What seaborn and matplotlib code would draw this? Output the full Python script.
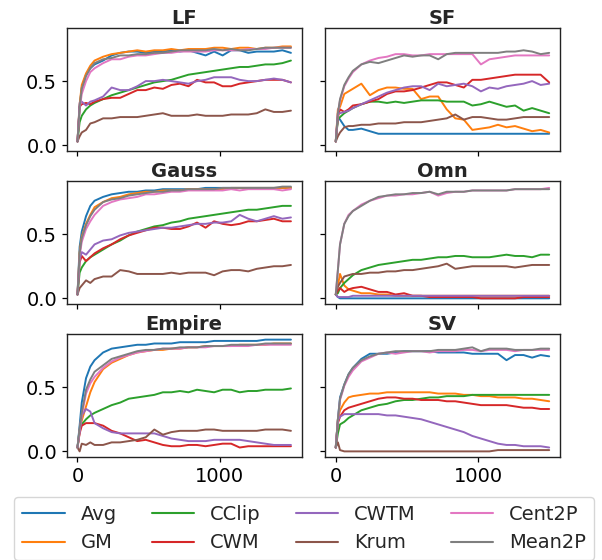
import numpy as np
import pandas as pd
import matplotlib
matplotlib.use("Agg")
import matplotlib.pyplot as plt
import seaborn as sns

# training steps (same for every panel)
steps = [0, 15, 30, 60, 90, 120, 180, 240, 300, 360, 420, 480, 540, 600, 660,
         720, 780, 840, 900, 960, 1020, 1080, 1140, 1200, 1260, 1320, 1380, 1440, 1500]

methods = ["Avg", "GM", "CClip", "CWM", "CWTM", "Krum", "Cent2P", "Mean2P"]
panels = ["LF", "SF", "Gauss", "Omn", "Empire", "SV"]

# ---- LF ----
lf_avg = [0.03, 0.30, 0.45, 0.55, 0.60, 0.63, 0.66, 0.70, 0.72, 0.73, 0.73, 0.72, 0.73, 0.73, 0.74, 0.73, 0.74, 0.72, 0.70, 0.73, 0.70, 0.74, 0.74, 0.72, 0.73, 0.73, 0.73, 0.74, 0.72]
lf_gm = [0.03, 0.32, 0.47, 0.56, 0.62, 0.66, 0.69, 0.71, 0.72, 0.73, 0.74, 0.73, 0.74, 0.74, 0.75, 0.74, 0.75, 0.75, 0.75, 0.76, 0.76, 0.75, 0.76, 0.76, 0.75, 0.76, 0.76, 0.77, 0.77]
lf_cclip = [0.03, 0.18, 0.23, 0.28, 0.31, 0.33, 0.36, 0.39, 0.41, 0.43, 0.45, 0.47, 0.49, 0.50, 0.51, 0.53, 0.55, 0.56, 0.57, 0.58, 0.59, 0.60, 0.61, 0.61, 0.62, 0.63, 0.63, 0.64, 0.66]
lf_cwm = [0.03, 0.30, 0.32, 0.33, 0.32, 0.34, 0.36, 0.37, 0.37, 0.40, 0.43, 0.43, 0.45, 0.44, 0.47, 0.48, 0.46, 0.51, 0.49, 0.49, 0.46, 0.46, 0.48, 0.49, 0.50, 0.51, 0.51, 0.51, 0.49]
lf_cwtm = [0.03, 0.33, 0.34, 0.31, 0.34, 0.35, 0.38, 0.45, 0.43, 0.43, 0.46, 0.50, 0.50, 0.51, 0.50, 0.49, 0.48, 0.50, 0.51, 0.53, 0.53, 0.53, 0.51, 0.50, 0.50, 0.51, 0.52, 0.51, 0.49]
lf_krum = [0.03, 0.07, 0.10, 0.12, 0.17, 0.18, 0.21, 0.21, 0.22, 0.22, 0.22, 0.23, 0.24, 0.25, 0.23, 0.23, 0.23, 0.24, 0.23, 0.23, 0.23, 0.24, 0.24, 0.24, 0.25, 0.28, 0.26, 0.26, 0.27]
lf_cent2p = [0.03, 0.28, 0.40, 0.50, 0.57, 0.60, 0.64, 0.67, 0.67, 0.69, 0.70, 0.70, 0.71, 0.72, 0.72, 0.73, 0.73, 0.73, 0.73, 0.74, 0.74, 0.74, 0.74, 0.75, 0.75, 0.75, 0.76, 0.76, 0.76]
lf_mean2p = [0.03, 0.30, 0.44, 0.54, 0.60, 0.64, 0.67, 0.68, 0.70, 0.70, 0.71, 0.71, 0.72, 0.72, 0.73, 0.74, 0.74, 0.74, 0.74, 0.75, 0.74, 0.75, 0.74, 0.74, 0.75, 0.76, 0.76, 0.76, 0.76]

# ---- SF ----
sf_avg = [0.03, 0.22, 0.20, 0.15, 0.12, 0.12, 0.13, 0.11, 0.09, 0.09, 0.09, 0.09, 0.09, 0.09, 0.09, 0.09, 0.09, 0.09, 0.09, 0.09, 0.09, 0.09, 0.09, 0.09, 0.09, 0.09, 0.09, 0.09, 0.09]
sf_gm = [0.03, 0.28, 0.30, 0.40, 0.42, 0.44, 0.48, 0.39, 0.43, 0.45, 0.45, 0.44, 0.44, 0.36, 0.38, 0.38, 0.28, 0.21, 0.20, 0.12, 0.13, 0.14, 0.16, 0.14, 0.15, 0.13, 0.11, 0.12, 0.10]
sf_cclip = [0.03, 0.20, 0.22, 0.25, 0.27, 0.29, 0.32, 0.34, 0.34, 0.33, 0.34, 0.33, 0.34, 0.35, 0.35, 0.35, 0.34, 0.34, 0.34, 0.31, 0.32, 0.34, 0.32, 0.30, 0.31, 0.27, 0.29, 0.27, 0.25]
sf_cwm = [0.03, 0.22, 0.28, 0.26, 0.28, 0.31, 0.32, 0.34, 0.36, 0.40, 0.42, 0.42, 0.43, 0.45, 0.47, 0.49, 0.49, 0.47, 0.45, 0.51, 0.51, 0.52, 0.53, 0.54, 0.55, 0.55, 0.55, 0.55, 0.49]
sf_cwtm = [0.03, 0.25, 0.25, 0.26, 0.27, 0.29, 0.32, 0.35, 0.38, 0.41, 0.43, 0.45, 0.46, 0.46, 0.43, 0.48, 0.46, 0.47, 0.48, 0.46, 0.42, 0.45, 0.44, 0.46, 0.47, 0.48, 0.50, 0.47, 0.48]
sf_krum = [0.03, 0.07, 0.10, 0.14, 0.15, 0.15, 0.16, 0.16, 0.17, 0.17, 0.17, 0.18, 0.18, 0.18, 0.19, 0.20, 0.21, 0.24, 0.20, 0.22, 0.22, 0.21, 0.20, 0.20, 0.21, 0.22, 0.22, 0.22, 0.22]
sf_cent2p = [0.03, 0.25, 0.35, 0.46, 0.52, 0.57, 0.63, 0.66, 0.68, 0.69, 0.71, 0.71, 0.70, 0.70, 0.71, 0.71, 0.71, 0.71, 0.71, 0.71, 0.63, 0.67, 0.68, 0.69, 0.70, 0.70, 0.70, 0.70, 0.70]
sf_mean2p = [0.03, 0.25, 0.36, 0.47, 0.53, 0.58, 0.63, 0.65, 0.64, 0.66, 0.68, 0.70, 0.69, 0.70, 0.70, 0.67, 0.71, 0.72, 0.72, 0.72, 0.72, 0.72, 0.72, 0.73, 0.73, 0.74, 0.73, 0.71, 0.72]

# ---- Gauss ----
ga_avg = [0.03, 0.40, 0.52, 0.64, 0.72, 0.76, 0.79, 0.81, 0.82, 0.83, 0.83, 0.84, 0.84, 0.85, 0.85, 0.85, 0.85, 0.85, 0.86, 0.86, 0.86, 0.86, 0.86, 0.86, 0.86, 0.86, 0.86, 0.86, 0.86]
ga_gm = [0.03, 0.36, 0.48, 0.58, 0.65, 0.71, 0.75, 0.78, 0.79, 0.81, 0.82, 0.83, 0.83, 0.84, 0.84, 0.84, 0.85, 0.85, 0.85, 0.85, 0.85, 0.86, 0.86, 0.86, 0.86, 0.86, 0.86, 0.86, 0.86]
ga_cclip = [0.03, 0.20, 0.24, 0.29, 0.32, 0.34, 0.38, 0.42, 0.45, 0.49, 0.52, 0.54, 0.56, 0.57, 0.59, 0.60, 0.62, 0.63, 0.64, 0.65, 0.66, 0.67, 0.68, 0.69, 0.69, 0.70, 0.71, 0.72, 0.72]
ga_cwm = [0.03, 0.28, 0.33, 0.29, 0.32, 0.35, 0.39, 0.42, 0.46, 0.49, 0.51, 0.53, 0.55, 0.55, 0.54, 0.54, 0.56, 0.59, 0.55, 0.60, 0.58, 0.57, 0.58, 0.60, 0.60, 0.61, 0.62, 0.60, 0.60]
ga_cwtm = [0.03, 0.30, 0.36, 0.34, 0.38, 0.42, 0.45, 0.46, 0.49, 0.51, 0.52, 0.53, 0.54, 0.55, 0.55, 0.56, 0.57, 0.58, 0.58, 0.59, 0.59, 0.60, 0.65, 0.62, 0.60, 0.62, 0.64, 0.62, 0.63]
ga_krum = [0.03, 0.08, 0.10, 0.14, 0.12, 0.15, 0.17, 0.17, 0.22, 0.21, 0.19, 0.19, 0.19, 0.19, 0.20, 0.19, 0.20, 0.20, 0.20, 0.18, 0.21, 0.22, 0.22, 0.21, 0.23, 0.24, 0.25, 0.25, 0.26]
ga_cent2p = [0.03, 0.33, 0.44, 0.54, 0.60, 0.65, 0.72, 0.75, 0.77, 0.78, 0.79, 0.81, 0.81, 0.82, 0.83, 0.83, 0.84, 0.84, 0.84, 0.84, 0.84, 0.85, 0.84, 0.85, 0.85, 0.85, 0.85, 0.84, 0.85]
ga_mean2p = [0.03, 0.35, 0.47, 0.57, 0.64, 0.69, 0.75, 0.77, 0.78, 0.80, 0.81, 0.82, 0.83, 0.83, 0.84, 0.84, 0.85, 0.85, 0.85, 0.85, 0.86, 0.86, 0.86, 0.86, 0.86, 0.86, 0.86, 0.87, 0.87]

# ---- Omn ----
om_avg = [0.03, 0.01, 0.00, 0.00, 0.00, 0.00, 0.00, 0.00, 0.00, 0.00, 0.00, 0.00, 0.00, 0.00, 0.00, 0.00, 0.00, 0.00, 0.00, 0.00, 0.00, 0.00, 0.00, 0.00, 0.00, 0.00, 0.00, 0.00, 0.00]
om_gm = [0.03, 0.10, 0.19, 0.10, 0.07, 0.06, 0.04, 0.04, 0.03, 0.03, 0.02, 0.02, 0.02, 0.02, 0.02, 0.02, 0.02, 0.02, 0.02, 0.02, 0.02, 0.02, 0.02, 0.02, 0.02, 0.02, 0.02, 0.02, 0.02]
om_cclip = [0.03, 0.04, 0.08, 0.12, 0.15, 0.18, 0.22, 0.24, 0.26, 0.27, 0.28, 0.29, 0.30, 0.30, 0.31, 0.32, 0.32, 0.33, 0.33, 0.32, 0.32, 0.32, 0.33, 0.34, 0.33, 0.33, 0.32, 0.34, 0.34]
om_cwm = [0.03, 0.06, 0.08, 0.05, 0.07, 0.08, 0.09, 0.07, 0.05, 0.05, 0.03, 0.04, 0.02, 0.02, 0.01, 0.01, 0.01, 0.01, 0.01, 0.01, 0.00, 0.00, 0.00, 0.00, 0.00, 0.01, 0.01, 0.01, 0.01]
om_cwtm = [0.03, 0.01, 0.01, 0.01, 0.01, 0.02, 0.02, 0.02, 0.02, 0.02, 0.02, 0.02, 0.02, 0.02, 0.02, 0.02, 0.02, 0.02, 0.02, 0.02, 0.02, 0.02, 0.02, 0.02, 0.02, 0.02, 0.02, 0.02, 0.02]
om_krum = [0.03, 0.09, 0.12, 0.17, 0.18, 0.19, 0.19, 0.20, 0.20, 0.21, 0.21, 0.22, 0.22, 0.23, 0.24, 0.25, 0.27, 0.23, 0.24, 0.25, 0.25, 0.25, 0.25, 0.25, 0.24, 0.25, 0.26, 0.26, 0.26]
om_cent2p = [0.03, 0.22, 0.42, 0.58, 0.65, 0.68, 0.73, 0.76, 0.78, 0.80, 0.80, 0.81, 0.81, 0.82, 0.83, 0.80, 0.82, 0.83, 0.83, 0.84, 0.84, 0.84, 0.84, 0.84, 0.85, 0.85, 0.85, 0.85, 0.86]
om_mean2p = [0.03, 0.22, 0.42, 0.58, 0.64, 0.68, 0.72, 0.76, 0.79, 0.80, 0.81, 0.81, 0.82, 0.82, 0.83, 0.81, 0.83, 0.83, 0.83, 0.84, 0.84, 0.84, 0.84, 0.84, 0.85, 0.85, 0.85, 0.85, 0.85]

# ---- Empire ----
em_avg = [0.03, 0.20, 0.38, 0.57, 0.66, 0.71, 0.77, 0.80, 0.81, 0.82, 0.83, 0.83, 0.84, 0.84, 0.84, 0.85, 0.85, 0.85, 0.85, 0.86, 0.86, 0.86, 0.86, 0.86, 0.86, 0.87, 0.87, 0.87, 0.87]
em_gm = [0.03, 0.15, 0.24, 0.35, 0.46, 0.54, 0.64, 0.69, 0.72, 0.75, 0.77, 0.78, 0.79, 0.79, 0.80, 0.80, 0.81, 0.81, 0.82, 0.82, 0.82, 0.82, 0.83, 0.83, 0.83, 0.83, 0.84, 0.84, 0.84]
em_cclip = [0.03, 0.17, 0.21, 0.25, 0.28, 0.30, 0.33, 0.36, 0.38, 0.41, 0.42, 0.43, 0.44, 0.46, 0.46, 0.47, 0.46, 0.48, 0.47, 0.46, 0.48, 0.48, 0.46, 0.47, 0.47, 0.48, 0.48, 0.48, 0.49]
em_cwm = [0.03, 0.14, 0.20, 0.22, 0.22, 0.22, 0.20, 0.16, 0.14, 0.11, 0.08, 0.09, 0.07, 0.05, 0.04, 0.04, 0.05, 0.05, 0.04, 0.05, 0.06, 0.06, 0.03, 0.04, 0.04, 0.04, 0.04, 0.04, 0.04]
em_cwtm = [0.03, 0.15, 0.28, 0.33, 0.31, 0.22, 0.18, 0.15, 0.14, 0.14, 0.14, 0.14, 0.14, 0.12, 0.10, 0.09, 0.08, 0.08, 0.08, 0.09, 0.09, 0.09, 0.09, 0.08, 0.07, 0.06, 0.05, 0.05, 0.05]
em_krum = [0.03, 0.00, 0.06, 0.05, 0.07, 0.05, 0.05, 0.07, 0.07, 0.08, 0.09, 0.11, 0.17, 0.13, 0.15, 0.16, 0.16, 0.16, 0.17, 0.17, 0.16, 0.16, 0.16, 0.16, 0.16, 0.17, 0.17, 0.17, 0.16]
em_cent2p = [0.03, 0.17, 0.28, 0.45, 0.53, 0.58, 0.65, 0.70, 0.73, 0.75, 0.77, 0.78, 0.79, 0.80, 0.80, 0.80, 0.81, 0.81, 0.81, 0.82, 0.82, 0.82, 0.82, 0.82, 0.83, 0.83, 0.83, 0.83, 0.83]
em_mean2p = [0.03, 0.18, 0.30, 0.48, 0.56, 0.62, 0.67, 0.72, 0.74, 0.76, 0.78, 0.79, 0.79, 0.80, 0.80, 0.81, 0.81, 0.81, 0.82, 0.82, 0.82, 0.83, 0.83, 0.83, 0.83, 0.84, 0.84, 0.84, 0.84]

# ---- SV ----
sv_avg = [0.03, 0.25, 0.42, 0.52, 0.60, 0.65, 0.72, 0.76, 0.76, 0.76, 0.77, 0.78, 0.78, 0.78, 0.78, 0.77, 0.77, 0.77, 0.77, 0.76, 0.76, 0.76, 0.76, 0.71, 0.75, 0.75, 0.73, 0.75, 0.74]
sv_gm = [0.03, 0.25, 0.32, 0.38, 0.42, 0.43, 0.44, 0.45, 0.45, 0.46, 0.46, 0.46, 0.46, 0.46, 0.46, 0.45, 0.45, 0.45, 0.44, 0.44, 0.43, 0.43, 0.42, 0.42, 0.42, 0.41, 0.41, 0.40, 0.39]
sv_cclip = [0.03, 0.14, 0.21, 0.23, 0.26, 0.28, 0.32, 0.34, 0.36, 0.37, 0.39, 0.40, 0.40, 0.41, 0.42, 0.42, 0.43, 0.43, 0.43, 0.44, 0.44, 0.44, 0.44, 0.44, 0.44, 0.44, 0.44, 0.44, 0.44]
sv_cwm = [0.03, 0.22, 0.27, 0.32, 0.34, 0.35, 0.37, 0.39, 0.41, 0.42, 0.42, 0.41, 0.41, 0.40, 0.40, 0.40, 0.39, 0.39, 0.38, 0.37, 0.36, 0.36, 0.36, 0.36, 0.35, 0.34, 0.34, 0.33, 0.33]
sv_cwtm = [0.03, 0.24, 0.27, 0.29, 0.29, 0.29, 0.29, 0.29, 0.29, 0.28, 0.28, 0.27, 0.26, 0.25, 0.23, 0.21, 0.19, 0.17, 0.15, 0.12, 0.10, 0.08, 0.06, 0.05, 0.05, 0.04, 0.04, 0.04, 0.03]
sv_krum = [0.03, 0.07, 0.01, 0.00, 0.00, 0.00, 0.00, 0.00, 0.00, 0.00, 0.00, 0.00, 0.00, 0.00, 0.00, 0.00, 0.00, 0.00, 0.00, 0.00, 0.00, 0.00, 0.01, 0.01, 0.01, 0.01, 0.01, 0.01, 0.01]
sv_cent2p = [0.03, 0.24, 0.40, 0.51, 0.58, 0.63, 0.70, 0.73, 0.76, 0.77, 0.76, 0.77, 0.78, 0.78, 0.77, 0.78, 0.78, 0.78, 0.79, 0.79, 0.78, 0.79, 0.79, 0.79, 0.78, 0.79, 0.79, 0.79, 0.79]
sv_mean2p = [0.03, 0.25, 0.41, 0.52, 0.60, 0.65, 0.71, 0.74, 0.76, 0.77, 0.78, 0.78, 0.78, 0.78, 0.78, 0.79, 0.79, 0.79, 0.80, 0.81, 0.78, 0.80, 0.80, 0.80, 0.79, 0.79, 0.79, 0.80, 0.80]

series = {
    "LF": [lf_avg, lf_gm, lf_cclip, lf_cwm, lf_cwtm, lf_krum, lf_cent2p, lf_mean2p],
    "SF": [sf_avg, sf_gm, sf_cclip, sf_cwm, sf_cwtm, sf_krum, sf_cent2p, sf_mean2p],
    "Gauss": [ga_avg, ga_gm, ga_cclip, ga_cwm, ga_cwtm, ga_krum, ga_cent2p, ga_mean2p],
    "Omn": [om_avg, om_gm, om_cclip, om_cwm, om_cwtm, om_krum, om_cent2p, om_mean2p],
    "Empire": [em_avg, em_gm, em_cclip, em_cwm, em_cwtm, em_krum, em_cent2p, em_mean2p],
    "SV": [sv_avg, sv_gm, sv_cclip, sv_cwm, sv_cwtm, sv_krum, sv_cent2p, sv_mean2p],
}

rows = []
for p in panels:
    for m, vals in zip(methods, series[p]):
        for s, v in zip(steps, vals):
            rows.append((p, m, s, v))
df = pd.DataFrame(rows, columns=["panel", "method", "step", "acc"])

sns.set_style("ticks")
plt.rcParams["font.family"] = ["DejaVu Sans"]
palette = dict(zip(methods, sns.color_palette("tab10", 8)))

fig, axes = plt.subplots(3, 2, figsize=(6.02, 5.6), dpi=100, sharex=True, sharey=True)
fig.subplots_adjust(left=0.111, right=0.93, top=0.95, bottom=0.184, wspace=0.1, hspace=0.245)

for ax, p in zip(axes.flat, panels):
    sns.lineplot(data=df[df.panel == p], x="step", y="acc", hue="method",
                 hue_order=methods, palette=palette, linewidth=1.4, ax=ax, legend=False)
    ax.set_title(p, fontsize=14, fontweight="bold", pad=3)
    ax.set_xlabel("")
    ax.set_ylabel("")
    ax.tick_params(labelsize=14, length=3.5, width=0.9, colors="black")
    for sp in ax.spines.values():
        sp.set_color("#222222")
        sp.set_linewidth(1.0)

axes[0, 0].set_yticks([0.0, 0.5])
axes[0, 0].set_xticks([0, 1000])

handles = [plt.Line2D([], [], color=palette[m], linewidth=1.5) for m in methods]
fig.legend(handles, methods, loc="upper center", ncol=4, fontsize=14,
           bbox_to_anchor=(0.505, 1 - 497 / 560), frameon=True,
           handlelength=2.2, columnspacing=1.8, borderaxespad=0.0)

fig.savefig("out.png", dpi=100)
